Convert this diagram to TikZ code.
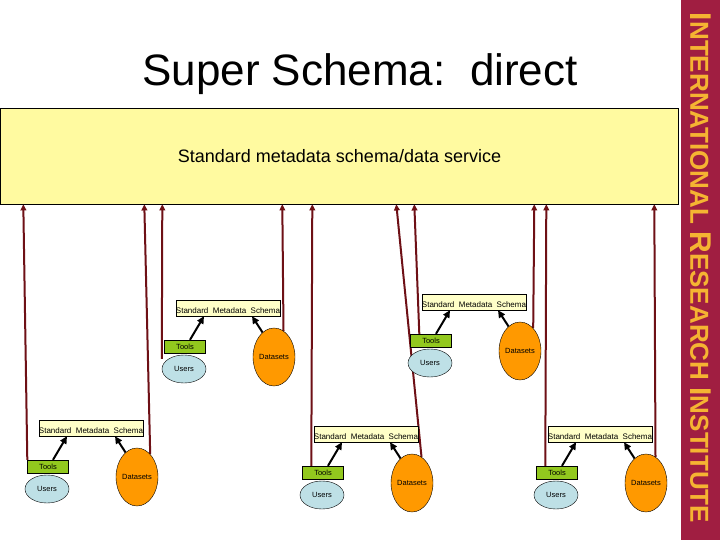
\documentclass[tikz,border=0pt]{standalone}
\usepackage{fontspec}
\setmainfont{Liberation Sans}
\usepackage{tikz}
\usetikzlibrary{arrows.meta,positioning,calc,shapes.geometric}

\definecolor{svcyellow}{RGB}{255,250,160}
\definecolor{schemayellow}{RGB}{255,255,200}
\definecolor{toolgreen}{RGB}{146,200,30}
\definecolor{userblue}{RGB}{190,224,230}
\definecolor{dataorange}{RGB}{255,153,0}
\definecolor{feedred}{RGB}{110,16,22}
\definecolor{iricrimson}{RGB}{160,30,65}
\definecolor{irigold}{RGB}{245,180,50}
\newcommand\capfirst[1]{{\fontsize{30}{30}\selectfont #1}}
\pgfdeclarelayer{back}
\pgfdeclarelayer{feeds}
\pgfsetlayers{back,feeds,main}

\begin{document}
\begin{tikzpicture}[x=1pt,y=-1pt,
svc/.style={draw,fill=svcyellow,minimum width=678pt,minimum height=96pt,inner sep=0pt,font=\fontsize{18}{20}\selectfont},
schema/.style={draw,fill=schemayellow,minimum width=104pt,inner xsep=0pt,inner ysep=2pt,text height=11pt,text depth=1pt,font=\fontsize{8}{9}\selectfont},
tools/.style={draw,fill=toolgreen,minimum width=41pt,minimum height=13pt,inner sep=0pt,font=\fontsize{7.5}{8}\selectfont},
users/.style={draw,ellipse,fill=userblue,minimum width=44pt,minimum height=28pt,inner sep=0pt,font=\fontsize{7.5}{8}\selectfont},
data/.style={draw,ellipse,fill=dataorange,minimum width=42pt,minimum height=58pt,inner sep=0pt,font=\fontsize{7.5}{8}\selectfont},
link/.style={-{Triangle[length=2.6mm,width=2.4mm]},line width=2pt},
feed/.style={-{Triangle[length=2.2mm,width=2mm]},line width=2pt,color=feedred}
]
\useasboundingbox (0,0) rectangle (720,540);
\begin{pgfonlayer}{back}
\fill[white] (0,0) rectangle (720,540);
\end{pgfonlayer}
\fill[iricrimson] (681,0) rectangle (720,540);
\node[rotate=-90,text=irigold,font=\bfseries\fontsize{26}{26}\selectfont] (iri) at (700.5,268)
  {\capfirst{I}NTERNATIONAL\ \capfirst{R}ESEARCH\ \capfirst{I}NSTITUTE};

\node[anchor=base,font=\fontsize{44}{48}\selectfont] (title) at (360,86) {Super Schema:\ \ direct};
\node[svc] (svc) at (339.5,156) {Standard metadata schema/data service};

% one local group per site
\foreach \g/\x/\y in {A/228/308,B/474/302,C/91/428,D/366/434,E/600/434}{
  \node[schema] (s\g) at (\x,\y) {Standard\ \ Metadata\ \ Schema};
  \node[tools] (t\g) at ($(s\g)+(-43,38.5)$) {Tools};
  \node[users] (u\g) at ($(s\g)+(-44,61)$) {Users};
  \node[data] (d\g) at ($(s\g)+(46,49)$) {Datasets};
  \draw[link] ([xshift=5pt]t\g.north) -- ([xshift=-24pt]s\g.south);
  \draw[link] (d\g.115) -- ([xshift=24pt]s\g.south);
}

% feeds up into the shared service, behind the local nodes
\begin{pgfonlayer}{feeds}
\draw[feed] (tC.north west) -- ([xshift=23pt]svc.south west);
\draw[feed] (dC.60) -- ([xshift=144pt]svc.south west);
\draw[feed] (uA.north west -| uA.west) -- ([xshift=162pt]svc.south west);
\draw[feed] (dA.70) -- ([xshift=282pt]svc.south west);
\draw[feed] ([xshift=9pt]tD.north west) -- ([xshift=312pt]svc.south west);
\draw[feed] (dD.70) -- ([xshift=396pt]svc.south west);
\draw[feed] ([xshift=9pt]tB.north west) -- ([xshift=414pt]svc.south west);
\draw[feed] (dB.60) -- ([xshift=534pt]svc.south west);
\draw[feed] ([xshift=9pt]tE.north west) -- ([xshift=546pt]svc.south west);
\draw[feed] (dE.70) -- ([xshift=654pt]svc.south west);
\end{pgfonlayer}
\end{tikzpicture}
\end{document}
